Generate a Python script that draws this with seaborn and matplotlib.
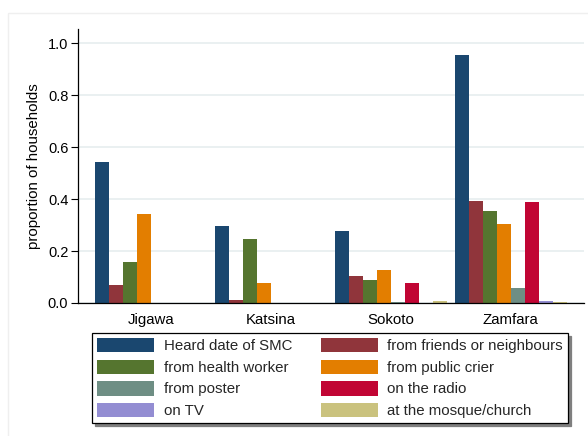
import matplotlib
matplotlib.use("Agg")
import matplotlib.pyplot as plt
from matplotlib.patches import Patch, Rectangle
import pandas as pd
import seaborn as sns

states = ["Jigawa", "Katsina", "Sokoto", "Zamfara"]
sources = [
    "Heard date of SMC",
    "from friends or neighbours",
    "from health worker",
    "from public crier",
    "from poster",
    "on the radio",
    "on TV",
    "at the mosque/church",
]
heard_smc = [0.543, 0.297, 0.276, 0.954]
friends = [0.069, 0.013, 0.103, 0.392]
health_worker = [0.159, 0.247, 0.090, 0.353]
public_crier = [0.341, 0.076, 0.128, 0.303]
poster = [0.0, 0.0, 0.002, 0.059]
radio = [0.0, 0.0, 0.076, 0.390]
tv = [0.0, 0.0, 0.0, 0.007]
mosque = [0.0, 0.0, 0.007, 0.003]
colors = ["#1a476f", "#90353b", "#55752f", "#e37e00",
          "#6e8e84", "#c10534", "#938dd2", "#cac27e"]

series = [heard_smc, friends, health_worker, public_crier, poster, radio, tv, mosque]
rows = []
for src, vals in zip(sources, series):
    for st, v in zip(states, vals):
        rows.append({"state": st, "source": src, "value": v})
df = pd.DataFrame(rows)

sns.set_theme(style="white")
plt.rcParams["font.family"] = ["Liberation Sans", "DejaVu Sans"]

fig = plt.figure(figsize=(5.88, 4.36), dpi=100)
fig.patch.set_facecolor("white")
ax = fig.add_axes([78 / 588, 1 - 303 / 436, (584 - 78) / 588, (303 - 29) / 436])

sns.barplot(data=df, x="state", y="value", hue="source", order=states,
            hue_order=sources, palette=colors, width=0.93, gap=0,
            linewidth=0, saturation=1, errorbar=None, legend=False, ax=ax)

ax.set_xlim(-0.61, 3.61)
ax.set_ylim(0, 1.054)
ax.set_yticks([0.0, 0.2, 0.4, 0.6, 0.8, 1.0])
ax.set_yticklabels(["0.0", "0.2", "0.4", "0.6", "0.8", "1.0"])
ax.yaxis.grid(True, color="#e8eff0", linewidth=1.3)
ax.set_axisbelow(True)
ax.tick_params(axis="y", which="major", left=True, length=5, width=0.8,
               color="black", labelsize=10.5, pad=2, labelcolor="black")
ax.tick_params(axis="x", which="major", bottom=False, length=0,
               labelsize=10.8, pad=7, labelcolor="black")
ax.set_xlabel("")
ax.set_ylabel("proportion of households", fontsize=10.8, color="black", labelpad=5)
for side in ["top", "right"]:
    ax.spines[side].set_visible(False)
for side in ["left", "bottom"]:
    ax.spines[side].set_color("black")
    ax.spines[side].set_linewidth(0.9)
ax.set_facecolor("white")

# faint outer graph-region frame
fig.patches.append(Rectangle((8 / 588, -0.05), 1.2, 1 - 13 / 436 + 0.05,
                             transform=fig.transFigure, fill=False,
                             edgecolor="#efefef", linewidth=1, zorder=0))

handles = [Patch(facecolor=c, edgecolor="none") for c in colors]
# column-major order so pairs read across rows
order = [0, 2, 4, 6, 1, 3, 5, 7]
leg = fig.legend([handles[i] for i in order], [sources[i] for i in order],
                 ncol=2, loc="upper left",
                 bbox_to_anchor=(92 / 588, 1 - 333 / 436), bbox_transform=fig.transFigure,
                 frameon=True, fancybox=False, shadow={"color": "#7f7f7f", "alpha": 1},
                 fontsize=10.8, handlelength=3.8, handleheight=1.1,
                 handletextpad=0.65, columnspacing=1.9, labelspacing=0.42,
                 borderpad=0.33, borderaxespad=0)
leg.get_frame().set_edgecolor("black")
leg.get_frame().set_linewidth(0.9)

fig.savefig("out.png", dpi=100, facecolor="white")
